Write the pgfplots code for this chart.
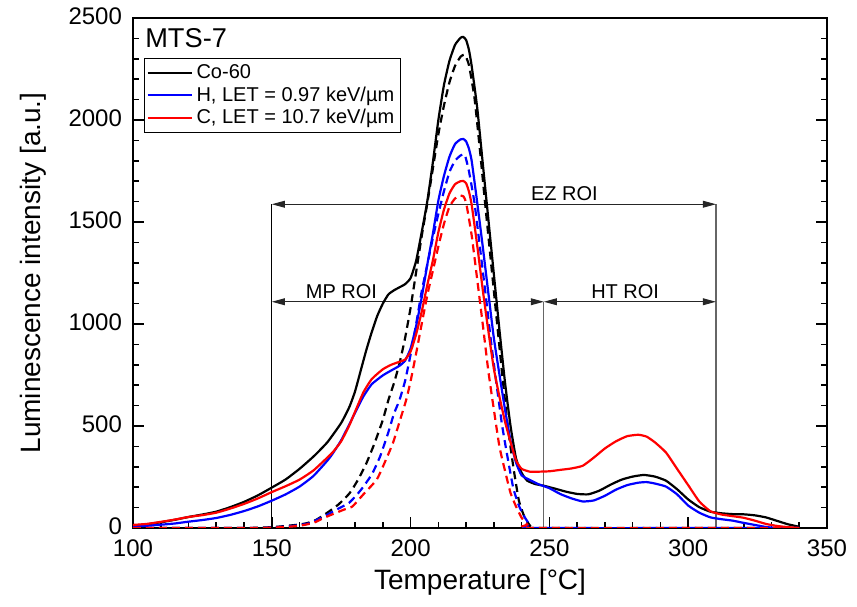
\documentclass[border=0pt]{standalone}
\usepackage{fontspec}
\setmainfont{Liberation Sans}
\usepackage{pgfplots}
\pgfplotsset{compat=1.18}
\usetikzlibrary{arrows.meta}
\begin{document}
\begin{tikzpicture}
\begin{axis}[
  name=ax,
  scale only axis,
  width=347pt, height=255pt,
  xmin=100, xmax=350, ymin=0, ymax=2500,
  xtick={100,150,...,350}, ytick={0,500,...,2500},
  minor x tick num=4, minor y tick num=4,
  xtick pos=left, ytick pos=both,
  tick align=inside,
  major tick length=5.5pt, minor tick length=3pt,
  every tick/.style={black, line width=0.8pt},
  axis line style={line width=1pt},
  /pgf/number format/assume math mode=true,
  /pgf/number format/1000 sep={},
  scaled y ticks=false,
  xticklabel style={font=\fontsize{12}{14}\selectfont, yshift=-2.5pt},
  yticklabel style={font=\fontsize{12}{14}\selectfont, xshift=-2pt, yshift=1pt},
  xlabel={Temperature [°C]},
  ylabel={Luminescence intensity [a.u.]},
  xlabel style={font=\fontsize{14}{16}\selectfont, at={(axis description cs:0.5,-0.107)}, anchor=center},
  ylabel style={font=\fontsize{14}{16}\selectfont, at={(axis description cs:-0.144,0.5)}, anchor=center},
  legend style={at={(0.0159,0.921)}, anchor=north west, draw=black, line width=0.5pt,
    font=\fontsize{10}{12}\selectfont, inner xsep=1pt, inner ysep=1pt, row sep=-1.5pt},
  legend cell align=left,
  legend image code/.code={\draw[#1, line width=1pt, solid] (0pt,0pt) -- (22pt,0pt);},
]
% annotations
\draw[black, line width=0.5pt] (axis cs:150,0) -- (axis cs:150,1587);
\draw[black!60, line width=0.6pt] (axis cs:248,0) -- (axis cs:248,1109);
\draw[black!60, line width=0.6pt] (axis cs:310,0) -- (axis cs:310,1587);
\draw[black!85, line width=0.5pt, {Triangle[length=6.5pt,width=3.4pt]}-{Triangle[length=6.5pt,width=3.4pt]}] (axis cs:150,1587) -- (axis cs:310,1587);
\draw[black!85, line width=0.5pt, {Triangle[length=6.5pt,width=3.4pt]}-{Triangle[length=6.5pt,width=3.4pt]}] (axis cs:150,1109) -- (axis cs:248,1109);
\draw[black!85, line width=0.5pt, {Triangle[length=6.5pt,width=3.4pt]}-{Triangle[length=6.5pt,width=3.4pt]}] (axis cs:248,1109) -- (axis cs:310,1109);
\node[font=\fontsize{10}{12}\selectfont, anchor=base, inner sep=0pt] at (axis cs:255.4,1604) {EZ ROI};
\node[font=\fontsize{10}{12}\selectfont, anchor=base, inner sep=0pt] at (axis cs:175.1,1126) {MP ROI};
\node[font=\fontsize{10}{12}\selectfont, anchor=base, inner sep=0pt] at (axis cs:277.3,1126) {HT ROI};
\node[font=\fontsize{13.6}{15}\selectfont, anchor=base west, inner sep=0pt] at (axis cs:104.3,2353) {MTS-7};

% Co-60 solid
\addplot[black, line width=1.1pt, smooth, tension=0.3] coordinates {
(100,12) (105,18) (110,28) (115,40) (120,54) (125,66) (130,80) (135,102) (140,128) (145,160)
(150,198) (155,238) (160,290) (165,350) (170,420) (175,515) (178,595) (180,670) (182,770)
(184,870) (186,960) (188,1040) (190,1100) (192,1145) (194,1165) (196,1180) (198,1195)
(200,1225) (202,1310) (204,1450) (206,1600) (208,1790) (210,2000) (212,2170) (214,2290)
(216,2368) (218,2403) (219,2407) (220,2392) (221,2345) (222,2265) (224,2060) (226,1787) (228,1515)
(230,1243) (232,972) (234,715) (236,500) (238,340) (240,270) (242,232) (245,215) (248,207)
(252,193) (256,178) (260,167) (264,165) (268,183) (272,212) (276,237) (280,252) (284,260)
(288,252) (292,232) (296,190) (300,140) (304,102) (308,80) (312,72) (316,68) (320,67)
(324,62) (328,52) (332,35) (336,18) (340,6)};
\addlegendentry{Co-60}
\addplot[black, line width=1.1pt, dash pattern=on 4pt off 2.5pt, smooth, tension=0.3, forget plot] coordinates {
(100,0) (140,0) (150,4) (155,10) (160,17) (163,25) (166,40) (170,75) (174,115) (178,170)
(181,235) (184,315) (187,415) (190,530) (192,627) (194,710) (196,807) (198,930) (200,1080)
(202,1255) (204,1430) (206,1590) (208,1760) (210,1930) (212,2070) (214,2185) (216,2265)
(218,2310) (219.5,2320) (221,2270) (223,2110) (225,1850) (227,1570) (229,1298) (231,1025)
(233,752) (235,500) (237,300) (239,135) (241,55) (243,12) (245,0) (340,0)};

% H solid
\addplot[blue, line width=1.1pt, smooth, tension=0.3] coordinates {
(100,8) (105,11) (110,16) (115,22) (120,31) (125,39) (130,49) (135,64) (140,83) (145,106)
(150,134) (155,165) (160,203) (165,255) (170,330) (172,366) (175,430) (178,510) (180,565)
(183,645) (186,705) (190,748) (193,772) (196,795) (198,820) (200,880) (202,990) (204,1130)
(206,1290) (208,1440) (210,1605) (212,1725) (214,1820) (216,1882) (218,1905) (219,1907)
(220,1895) (221,1860) (222,1800) (224,1595) (226,1379) (228,1153) (230,930) (232,753) (234,582)
(236,428) (238,320) (240,258) (243,235) (246,215) (250,195) (254,166) (258,145) (262,130)
(266,135) (270,158) (274,188) (278,210) (282,222) (285,225) (288,218) (292,203) (296,165)
(300,110) (304,75) (308,52) (312,43) (316,36) (320,25) (324,15) (328,5) (332,0) (340,0)};
\addlegendentry{H, LET = 0.97 keV/µm}
\addplot[blue, line width=1.1pt, dash pattern=on 4pt off 2.5pt, smooth, tension=0.3, forget plot] coordinates {
(100,0) (145,0) (150,3) (155,7) (160,14) (164,25) (167,45) (170,65) (174,95) (178,125)
(182,185) (186,262) (189,350) (192,470) (194,560) (196,627) (198,720) (200,850) (202,1000)
(204,1160) (206,1290) (208,1420) (210,1540) (212,1650) (214,1745) (216,1800) (218,1826)
(219.5,1830) (221,1750) (223,1595) (225,1374) (227,1147) (229,911) (231,700) (233,500)
(235,341) (237,195) (239,110) (241,55) (243,15) (245,0) (340,0)};

% C solid
\addplot[red, line width=1.1pt, smooth, tension=0.3] coordinates {
(100,15) (105,20) (110,30) (115,41) (120,54) (125,63) (130,75) (135,95) (140,118) (145,145)
(150,176) (155,205) (160,237) (165,282) (170,345) (172,372) (175,425) (178,505) (180,570)
(183,665) (186,730) (190,778) (193,800) (196,815) (198,825) (200,865) (202,950) (204,1060)
(206,1190) (208,1310) (210,1450) (212,1560) (214,1640) (216,1685) (218,1700) (219,1701)
(220,1690) (221,1650) (222,1585) (224,1385) (226,1167) (228,967) (230,780) (232,644) (234,522)
(236,422) (238,330) (240,290) (243,276) (246,276) (250,278) (254,285) (258,292) (262,305)
(266,345) (270,390) (274,425) (278,450) (282,457) (285,448) (288,420) (292,370) (296,290)
(300,210) (304,130) (308,82) (312,66) (316,58) (320,50) (324,36) (328,20) (332,10) (336,4)
(340,0)};
\addlegendentry{C, LET = 10.7 keV/µm}
\addplot[red, line width=1.1pt, dash pattern=on 4pt off 2.5pt, smooth, tension=0.3, forget plot] coordinates {
(100,0) (145,0) (150,2) (155,5) (160,11) (165,25) (168.5,48) (172,68) (176,90) (179,105)
(183,165) (187.7,235) (190,300) (193.6,415) (196,520) (198.4,627) (200,720) (202,856)
(204,1000) (206,1140) (208,1260) (210,1380) (212,1490) (214,1575) (216,1615) (218,1630)
(219,1626) (220,1595) (222,1435) (224,1218) (226,998) (228,770) (230,580) (232,399)
(234,281) (236,172) (238,105) (240,50) (242,17) (244,0) (340,0)};
\end{axis}
\pgfresetboundingbox
\path[use as bounding box] ([shift={(-66.5pt,-39.5pt)}]ax.south west) rectangle ([shift={(15pt,9pt)}]ax.north east);
\end{tikzpicture}
\end{document}
